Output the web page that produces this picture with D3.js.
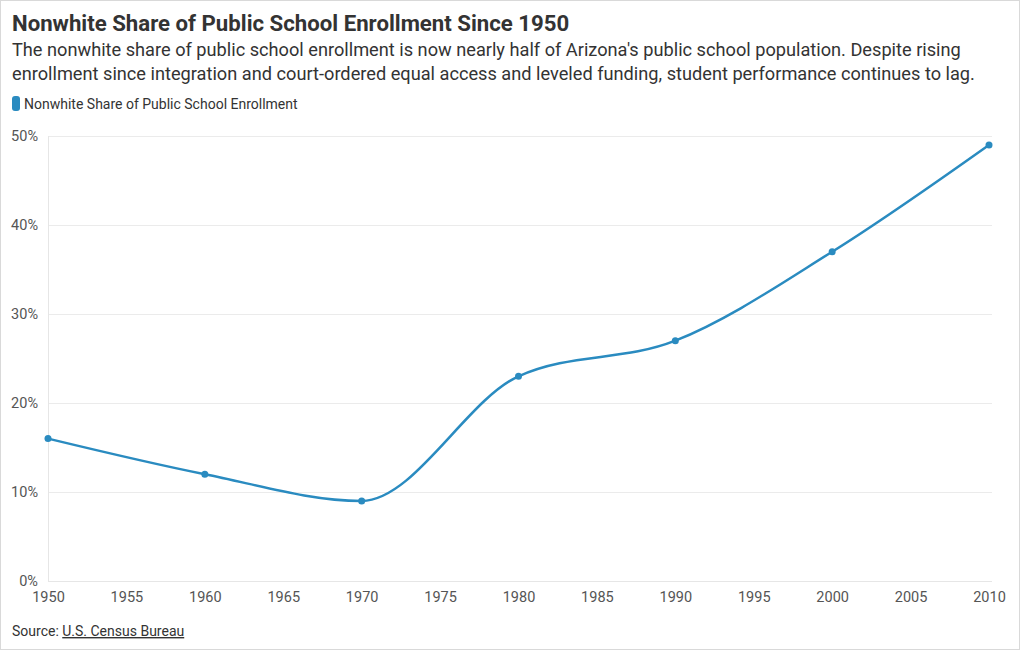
<!DOCTYPE html>
<html><head><meta charset="utf-8">
<script src="https://cdn.jsdelivr.net/npm/d3@7"></script>
<style>
body{margin:0;background:#fff;font-family:Roboto,sans-serif;}
svg{display:block;}
</style></head>
<body>
<svg id="c" width="1020" height="650"></svg>
<script>
const years = [1950, 1960, 1970, 1980, 1990, 2000, 2010];
const shares = [16, 12, 9, 23, 27, 37, 49];
const xTicks = [1950, 1955, 1960, 1965, 1970, 1975, 1980, 1985, 1990, 1995, 2000, 2005, 2010];
const yTicks = [0, 10, 20, 30, 40, 50];
const seriesName = "Nonwhite Share of Public School Enrollment";
const title = "Nonwhite Share of Public School Enrollment Since 1950";
const subtitle = ["The nonwhite share of public school enrollment is now nearly half of Arizona's public school population. Despite rising",
  "enrollment since integration and court-ordered equal access and leveled funding, student performance continues to lag."];
const color = "#2a8bc0";

const svg = d3.select("#c");
svg.append("rect").attr("x",0.5).attr("y",0.5).attr("width",1019).attr("height",649)
  .attr("fill","#fff").attr("stroke","#d9d9d9");

const x = d3.scaleLinear().domain([1950,2010]).range([48,989]);
const y = d3.scaleLinear().domain([0,50]).range([581,136]);

svg.append("text").attr("x",12).attr("y",31).attr("font-size",22.2).attr("font-weight",700)
  .attr("fill","#333").text(title);
subtitle.forEach((s,i)=>svg.append("text").attr("x",12).attr("y",56+i*23.5).attr("font-size",18.2)
  .attr("fill","#333").text(s));

svg.append("rect").attr("x",12).attr("y",96).attr("width",8).attr("height",15).attr("rx",3)
  .attr("fill",color);
svg.append("text").attr("x",24).attr("y",109).attr("font-size",14).attr("fill","#333").text(seriesName);

// gridlines
svg.append("g").selectAll("line").data(yTicks.filter(d=>d>0)).join("line")
  .attr("x1",48).attr("x2",992).attr("y1",d=>Math.round(y(d))+0.5).attr("y2",d=>Math.round(y(d))+0.5)
  .attr("stroke","#ebebeb");
// axis lines
svg.append("line").attr("x1",48.5).attr("x2",48.5).attr("y1",136).attr("y2",581).attr("stroke","#e6e6e6");
svg.append("line").attr("x1",48).attr("x2",992).attr("y1",581.5).attr("y2",581.5).attr("stroke","#e6e6e6");

const yAxis = svg.append("g").attr("transform","translate(40,0)")
  .call(d3.axisLeft(y).tickValues(yTicks).tickFormat(d=>d+"%").tickSize(0));
yAxis.select(".domain").remove();
yAxis.selectAll("text").attr("font-family","Roboto,sans-serif").attr("font-size",14.5).attr("fill","#555")
  .attr("dy","0.3em").attr("x",-2);

const xAxis = svg.append("g").attr("transform","translate(0,590)")
  .call(d3.axisBottom(x).tickValues(xTicks).tickFormat(d3.format("d")).tickSize(0));
xAxis.select(".domain").remove();
xAxis.selectAll("text").attr("font-family","Roboto,sans-serif").attr("font-size",14.5).attr("fill","#555")
  .attr("dy","0.71em").attr("y",2);

const data = years.map((yr,i)=>({yr, v:shares[i]}));
const line = d3.line().x(d=>x(d.yr)).y(d=>y(d.v)).curve(d3.curveMonotoneX);
svg.append("path").datum(data).attr("d",line).attr("fill","none").attr("stroke",color).attr("stroke-width",2.5);
svg.append("g").selectAll("circle").data(data).join("circle")
  .attr("cx",d=>x(d.yr)).attr("cy",d=>y(d.v)).attr("r",3.5).attr("fill",color);

const src = svg.append("text").attr("x",12).attr("y",636).attr("font-size",14).attr("fill","#333");
src.append("tspan").text("Source: ");
src.append("tspan").attr("text-decoration","underline").text("U.S. Census Bureau");
</script>
</body></html>
